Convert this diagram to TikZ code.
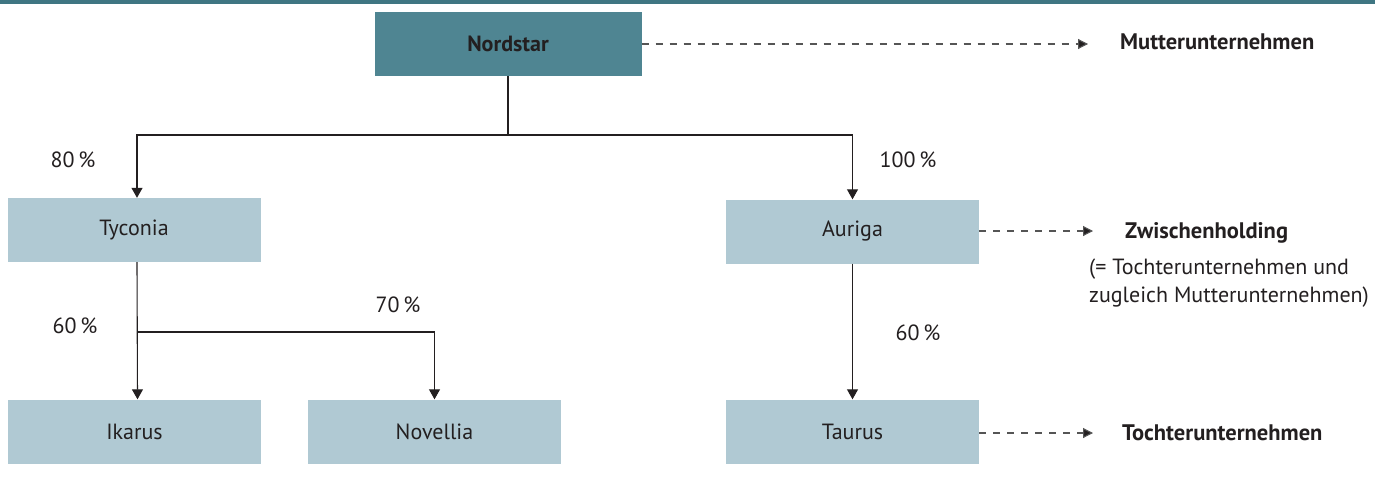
\documentclass[tikz,border=0pt]{standalone}
\usepackage{fontspec}
\setmainfont{PT Sans}
\usetikzlibrary{arrows.meta,positioning,calc}
\definecolor{nordteal}{HTML}{4F8592}
\definecolor{topline}{HTML}{3F7682}
\definecolor{boxblue}{HTML}{B0C9D3}
\definecolor{inkdark}{HTML}{231F20}
\definecolor{dashgrey}{HTML}{555555}
\tikzset{
  firm/.style={fill=boxblue, minimum width=253pt, minimum height=64pt, inner sep=0pt,
    text=inkdark, font=\fontsize{22}{26}\selectfont},
  parentfirm/.style={firm, fill=nordteal, minimum width=267pt, font=\fontsize{22}{26}\selectfont\bfseries},
  share/.style={text=inkdark, font=\fontsize{22}{26}\selectfont},
  rolelabel/.style={anchor=west, text=inkdark, inner sep=0pt, font=\fontsize{22.5}{26}\selectfont\bfseries},
  link/.style={draw=inkdark, line width=1.1pt, -{Triangle[width=11pt,length=10pt]}},
  plainlink/.style={draw=inkdark, line width=1.1pt},
  rolearrow/.style={draw=dashgrey, line width=1.1pt, dash pattern=on 7pt off 7pt,
    -{Triangle[width=10pt,length=10pt,fill=inkdark]}}
}
\begin{document}
\begin{tikzpicture}[x=1pt,y=-1pt]
\useasboundingbox (0,0) rectangle (1375,479);
\fill[topline] (0,0) rectangle (1375,4);
% companies
\node[parentfirm] (nordstar) at (508,44) {Nordstar};
\node[firm] (tyconia) at (134,230) {Tyconia};
\node[firm] (auriga) at (852.5,231.5) {Auriga};
\node[firm] (ikarus) at (134.5,431.5) {Ikarus};
\node[firm] (novellia) at (434.5,431.5) {Novellia};
\node[firm] (taurus) at (852.5,431.5) {Taurus};
% junctions
\coordinate (topfork) at (nordstar.south |- 0,135);
\coordinate (leftfork) at ([xshift=3pt]tyconia.south |- 0,332);
% ownership links
\draw[plainlink] (nordstar.south) -- (topfork);
\draw[link] (topfork) -| ([xshift=3pt]tyconia.north);
\draw[link] (topfork) -| (auriga.north);
\draw[link] ([xshift=3pt]tyconia.south) -- ([xshift=3pt]ikarus.north);
\draw[link] (leftfork) -| (novellia.north);
\draw[link] (auriga.south) -- (taurus.north);
% shares
\node[share] (s80) at (73,160) {80\,\%};
\node[share] (s100) at (908,160) {100\,\%};
\node[share] (s60l) at (75,326) {60\,\%};
\node[share] (s70) at (398,305) {70\,\%};
\node[share] (s60r) at (918,333) {60\,\%};
% roles
\node[rolelabel] (mutter) at (1120,42) {Mutterunternehmen};
\node[rolelabel] (zwischen) at (1125,233) {Zwischenholding};
\node[rolelabel] (tochter) at (1122,433) {Tochterunternehmen};
\node[anchor=north west, inner sep=0pt, align=left, text=inkdark,
  font=\fontsize{22}{28}\selectfont] (zwischendesc) at (1089,259)
  {(= Tochterunternehmen und\\zugleich Mutterunternehmen)};
\coordinate (mutterend) at (1088,44);
\coordinate (zwischenend) at (1093,231);
\coordinate (tochterend) at (1093,433);
\draw[rolearrow] (nordstar.east |- mutterend) -- (mutterend);
\draw[rolearrow] (auriga.east |- zwischenend) -- (zwischenend);
\draw[rolearrow] (taurus.east |- tochterend) -- (tochterend);
\end{tikzpicture}
\end{document}
